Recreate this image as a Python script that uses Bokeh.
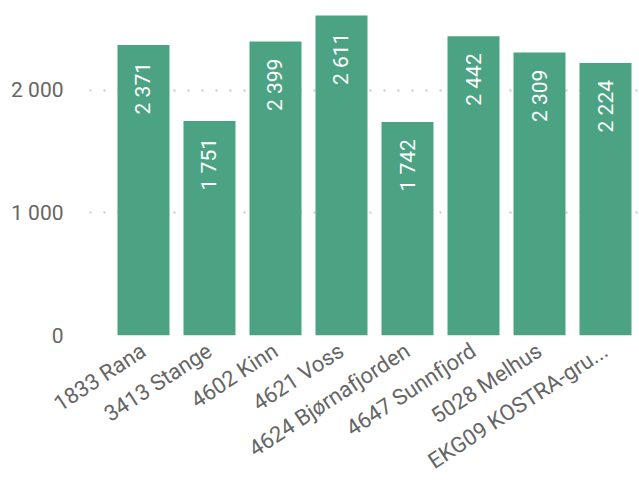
import math
from bokeh.plotting import figure
from bokeh.models import ColumnDataSource, Range1d, FixedTicker
from bokeh.core.properties import value
from bokeh.embed import file_html
from bokeh.resources import INLINE

categories = ["1833 Rana", "3413 Stange", "4602 Kinn", "4621 Voss",
              "4624 Bjørnafjorden", "4647 Sunnfjord", "5028 Melhus", "EKG09 KOSTRA-gru..."]
values = [2371, 1751, 2399, 2611, 1742, 2442, 2309, 2224]
y_ticks = [0, 1000, 2000]
y_tick_labels = ["0", "1 000", "2 000"]

def fmt(v):
    return f"{v:,}".replace(",", " ")

xs = list(range(len(categories)))
src = ColumnDataSource(dict(x=xs, top=values, lab=[fmt(v) for v in values]))

FONT = "Roboto"
p = figure(frame_width=550, frame_height=327, output_backend="svg", toolbar_location=None,
           x_range=Range1d(-0.818, 7.515), y_range=Range1d(0, 2669),
           min_border_left=89, min_border_right=0, min_border_top=8, min_border_bottom=0)
p.outline_line_color = None
p.background_fill_color = "white"

p.vbar(x="x", top="top", width=0.788, bottom=0, source=src,
       fill_color="#4ba383", line_color=None)

p.text(x="x", y="top", text="lab", source=src, angle=math.pi / 2,
       text_align="right", text_baseline="middle", y_offset=17,
       text_color="white", text_font=value(FONT), text_font_size="21px")

p.xgrid.visible = False
p.ygrid.ticker = FixedTicker(ticks=y_ticks)
p.ygrid.grid_line_color = "#c8c8c8"
p.ygrid.grid_line_width = 2
p.ygrid.grid_line_dash = "2 12"

ya = p.yaxis[0]
ya.ticker = FixedTicker(ticks=y_ticks)
ya.major_label_overrides = {t: l for t, l in zip(y_ticks, y_tick_labels)}
ya.axis_line_color = None
ya.major_tick_line_color = None
ya.minor_tick_line_color = None
ya.major_label_standoff = 20
ya.major_label_text_font = FONT
ya.major_label_text_font_size = "21px"
ya.major_label_text_color = "#666666"

xa = p.xaxis[0]
xa.ticker = FixedTicker(ticks=xs)
xa.major_label_overrides = {i: c for i, c in zip(xs, categories)}
xa.major_label_orientation = 0.58
xa.axis_line_color = None
xa.major_tick_line_color = None
xa.minor_tick_line_color = None
xa.major_label_standoff = 7
xa.major_label_text_font = FONT
xa.major_label_text_font_size = "22px"
xa.major_label_text_color = "#666666"

open("out.html", "w").write(file_html(p, INLINE))
